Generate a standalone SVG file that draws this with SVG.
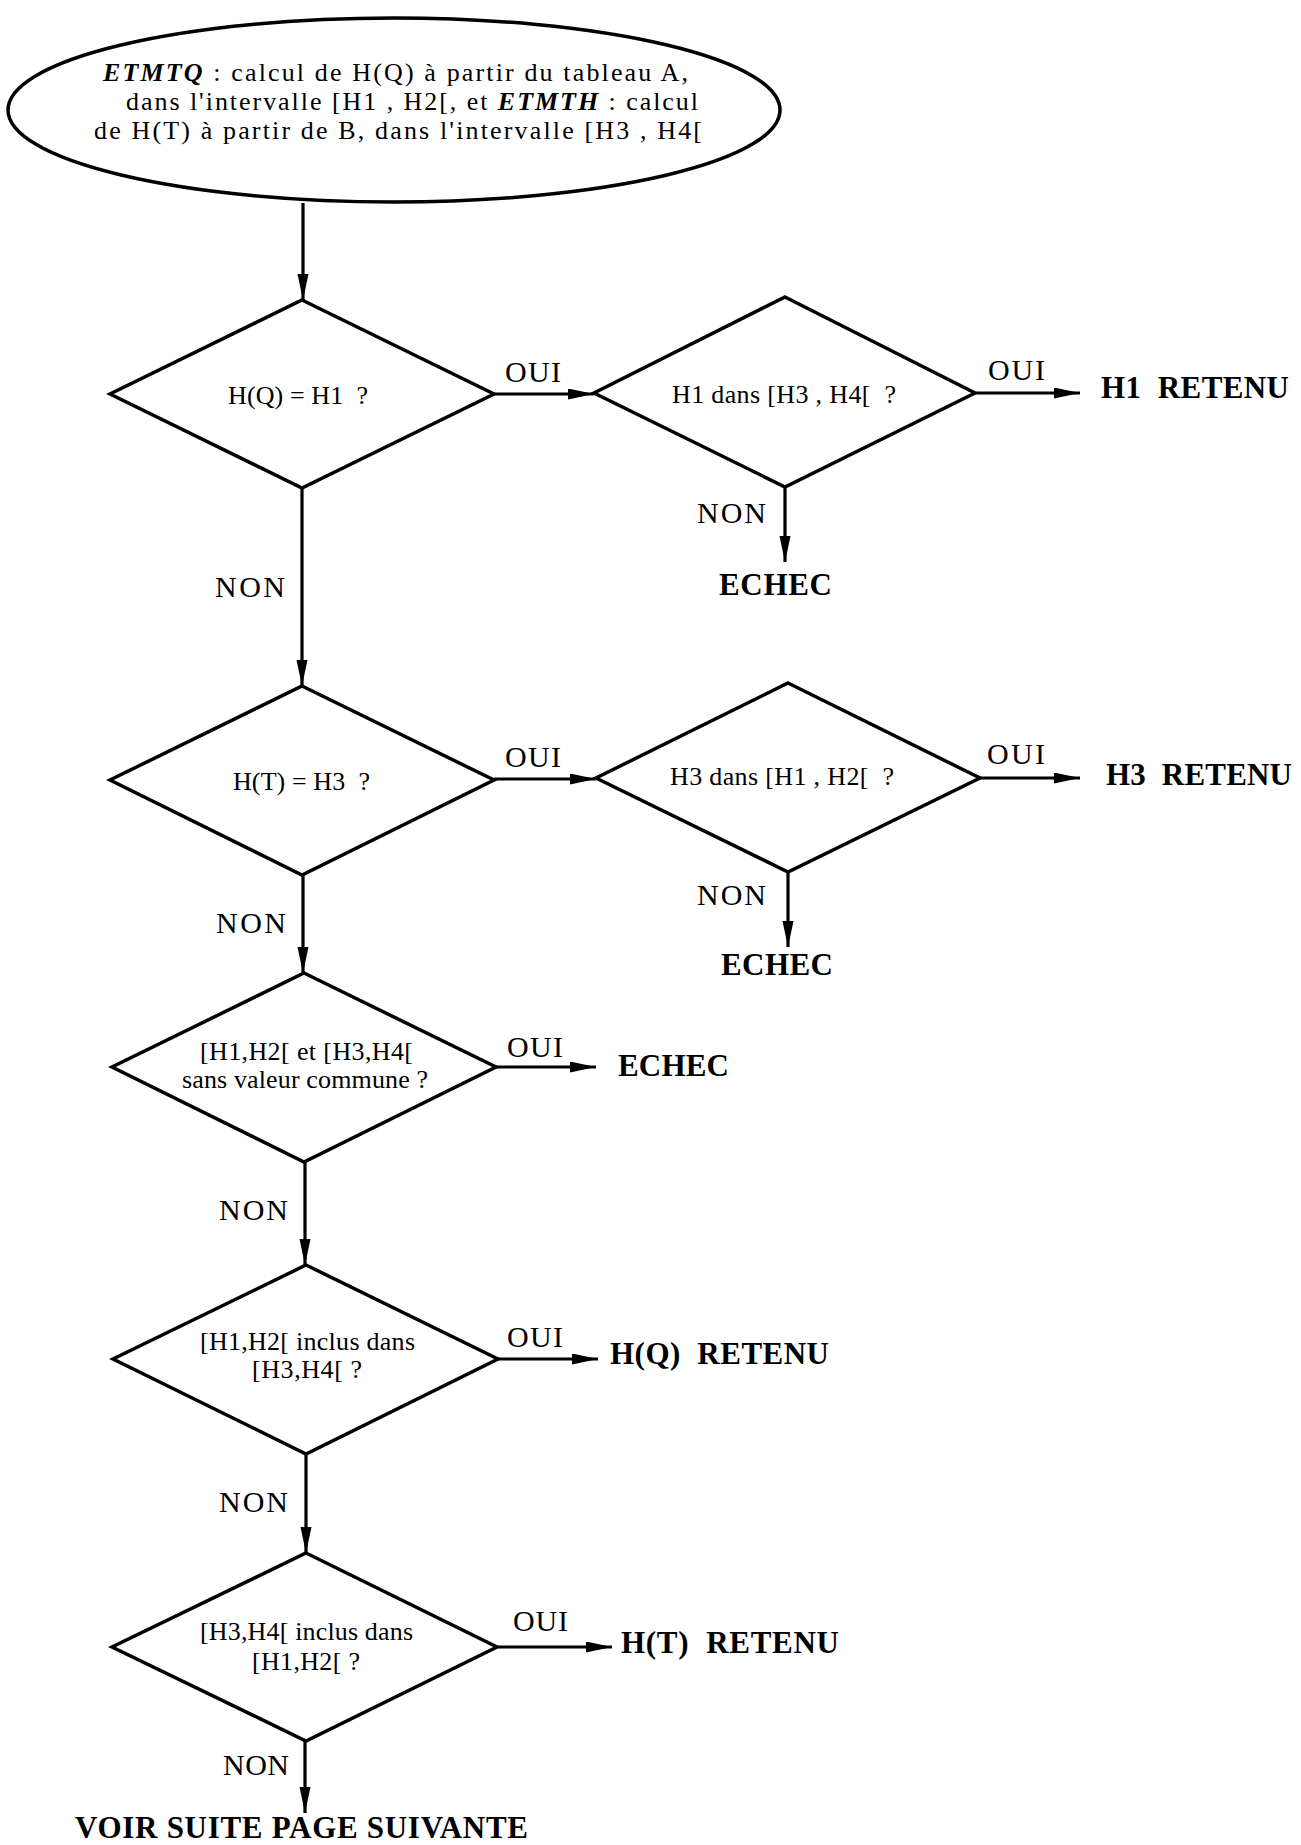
<svg xmlns="http://www.w3.org/2000/svg" width="1301" height="1845" viewBox="0 0 1301 1845">
<style>
.shape{fill:#fff;stroke:#000;stroke-width:3.5;stroke-linejoin:miter}
.conn{stroke:#000;stroke-width:3.2;fill:none}
.t{font-family:"Liberation Serif","Times New Roman",serif;fill:#000}
.q{font-size:26px}
.lbl{font-size:30px}
.res{font-size:31px;font-weight:bold}
.big{font-size:26px}
.bi{font-weight:bold;font-style:italic}
</style>
<defs>
<marker id="ah" markerUnits="userSpaceOnUse" markerWidth="27" markerHeight="12" refX="26" refY="5.5" orient="auto">
<path d="M0,0 L26,5.5 L0,11 Z" fill="#000"/>
</marker>
</defs>
<rect width="1301" height="1845" fill="#fff"/>

<g id="connectors">
<line class="conn" x1="303" y1="203" x2="303" y2="300" marker-end="url(#ah)"/>
<line class="conn" x1="494" y1="394" x2="594" y2="394" marker-end="url(#ah)"/>
<line class="conn" x1="975" y1="393" x2="1080" y2="393" marker-end="url(#ah)"/>
<line class="conn" x1="785" y1="487" x2="785" y2="562" marker-end="url(#ah)"/>
<line class="conn" x1="302" y1="488" x2="302" y2="686" marker-end="url(#ah)"/>
<line class="conn" x1="494" y1="779" x2="596" y2="779" marker-end="url(#ah)"/>
<line class="conn" x1="980" y1="778" x2="1080" y2="778" marker-end="url(#ah)"/>
<line class="conn" x1="788" y1="872" x2="788" y2="947" marker-end="url(#ah)"/>
<line class="conn" x1="303" y1="875" x2="303" y2="973" marker-end="url(#ah)"/>
<line class="conn" x1="496" y1="1067" x2="596" y2="1067" marker-end="url(#ah)"/>
<line class="conn" x1="305" y1="1162" x2="305" y2="1265" marker-end="url(#ah)"/>
<line class="conn" x1="498" y1="1359" x2="598" y2="1359" marker-end="url(#ah)"/>
<line class="conn" x1="306" y1="1454" x2="306" y2="1553" marker-end="url(#ah)"/>
<line class="conn" x1="498" y1="1647" x2="612" y2="1647" marker-end="url(#ah)"/>
<line class="conn" x1="305" y1="1741" x2="305" y2="1813" marker-end="url(#ah)"/>
</g>

<g id="labels">
<text class="t lbl" x="505" y="382" textLength="56">OUI</text>
<text class="t lbl" x="988" y="380" textLength="57">OUI</text>
<text class="t lbl" x="697" y="523" textLength="69">NON</text>
<text class="t lbl" x="215" y="597" textLength="70">NON</text>
<text class="t lbl" x="505" y="767" textLength="56">OUI</text>
<text class="t lbl" x="987" y="764" textLength="58">OUI</text>
<text class="t lbl" x="697" y="905" textLength="69">NON</text>
<text class="t lbl" x="216" y="933" textLength="70">NON</text>
<text class="t lbl" x="507" y="1057" textLength="56">OUI</text>
<text class="t lbl" x="219" y="1220" textLength="69">NON</text>
<text class="t lbl" x="507" y="1347" textLength="56">OUI</text>
<text class="t lbl" x="219" y="1512" textLength="69">NON</text>
<text class="t lbl" x="513" y="1631" textLength="55">OUI</text>
<text class="t lbl" x="223" y="1775" textLength="66">NON</text>
</g>

<g id="start">
<ellipse class="shape" cx="394" cy="110" rx="386" ry="92"/>
<text class="t big" x="103" y="81" textLength="585"><tspan class="bi">ETMTQ</tspan> : calcul de H(Q) à partir du tableau A,</text>
<text class="t big" x="126" y="110" textLength="572">dans l'intervalle [H1 , H2[, et <tspan class="bi">ETMTH</tspan> : calcul</text>
<text class="t big" x="94" y="139" textLength="608">de H(T) à partir de B, dans l'intervalle [H3 , H4[</text>
</g>

<g id="d1">
<polygon class="shape" points="302,300 494,394 302,488 110,394"/>
<text class="t q" x="228" y="404" textLength="140" xml:space="preserve">H(Q) = H1  ?</text>
</g>

<g id="d2">
<polygon class="shape" points="785,297 975,393 785,487 594,393"/>
<text class="t q" x="672" y="403" textLength="224" xml:space="preserve">H1 dans [H3 , H4[  ?</text>
</g>

<g id="r1">
<text class="t res" x="1101" y="398" textLength="188" xml:space="preserve">H1  RETENU</text>
</g>

<g id="e1">
<text class="t res" x="719" y="595" textLength="113">ECHEC</text>
</g>

<g id="d3">
<polygon class="shape" points="302,686 494,780 302,875 110,780"/>
<text class="t q" x="233" y="790" textLength="137" xml:space="preserve">H(T) = H3  ?</text>
</g>

<g id="d4">
<polygon class="shape" points="788,683 980,778 788,872 596,778"/>
<text class="t q" x="670" y="785" textLength="224" xml:space="preserve">H3 dans [H1 , H2[  ?</text>
</g>

<g id="r2">
<text class="t res" x="1106" y="785" textLength="186" xml:space="preserve">H3  RETENU</text>
</g>

<g id="e2">
<text class="t res" x="721" y="975" textLength="112">ECHEC</text>
</g>

<g id="d5">
<polygon class="shape" points="304,973 496,1067 304,1162 112,1067"/>
<text class="t q" x="200" y="1060" textLength="213">[H1,H2[ et [H3,H4[</text>
<text class="t q" x="182" y="1088" textLength="246">sans valeur commune ?</text>
</g>

<g id="e3">
<text class="t res" x="618" y="1076" textLength="111">ECHEC</text>
</g>

<g id="d6">
<polygon class="shape" points="306,1265 498,1359 306,1454 113,1359"/>
<text class="t q" x="200" y="1350" textLength="215">[H1,H2[ inclus dans</text>
<text class="t q" x="252" y="1378" textLength="110">[H3,H4[ ?</text>
</g>

<g id="r3">
<text class="t res" x="610" y="1364" textLength="219" xml:space="preserve">H(Q)  RETENU</text>
</g>

<g id="d7">
<polygon class="shape" points="306,1553 497,1647 306,1741 112,1647"/>
<text class="t q" x="200" y="1640" textLength="213">[H3,H4[ inclus dans</text>
<text class="t q" x="252" y="1670" textLength="108">[H1,H2[ ?</text>
</g>

<g id="r4">
<text class="t res" x="621" y="1653" textLength="218" xml:space="preserve">H(T)  RETENU</text>
</g>

<g id="next">
<text class="t res" x="75" y="1838" textLength="453">VOIR SUITE PAGE SUIVANTE</text>
</g>
</svg>
